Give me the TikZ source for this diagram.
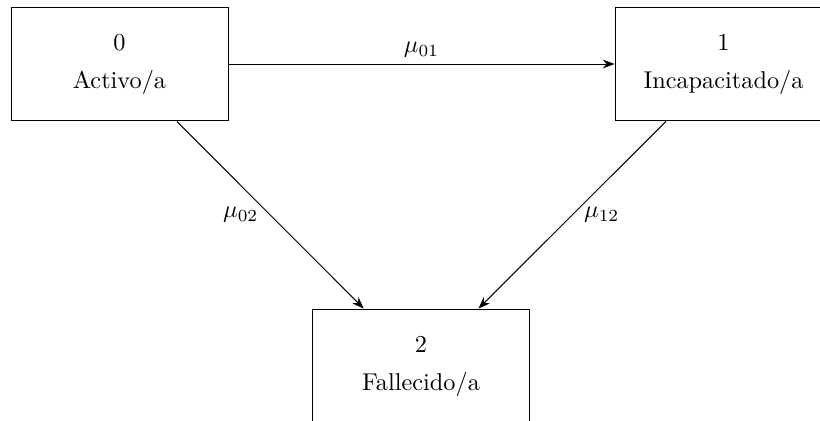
\documentclass[tikz,border=0pt]{standalone}
\usetikzlibrary{arrows.meta}
\begin{document}
\begin{tikzpicture}[x=0.4115pt, y=-0.4115pt,
  state/.style={draw, thin, minimum width=89.3pt, minimum height=46.9pt, align=center, inner sep=0pt},
  trans/.style={draw, thin, -{Stealth}},
  rate/.style={midway, inner sep=2pt}]
  \clip (0,0) rectangle (820,421);
  % the three states
  \node[state] (n0) at (119.5,64) {0\\[3.6pt]Activo/a};
  \node[state] (n1) at (723.5,64) {1\\[3.6pt]Incapacitado/a};
  \node[state] (n2) at (421,366) {2\\[3.6pt]Fallecido/a};
  % transitions between states
  \draw[trans] (n0) -- node[rate, above, yshift=0.5pt] {$\mu_{01}$} (n1);
  \draw[trans] (n0) -- node[rate, left, xshift=-2.7pt] {$\mu_{02}$} (n2);
  \draw[trans] (n1) -- node[rate, right, xshift=2.7pt] {$\mu_{12}$} (n2);
\end{tikzpicture}
\end{document}
